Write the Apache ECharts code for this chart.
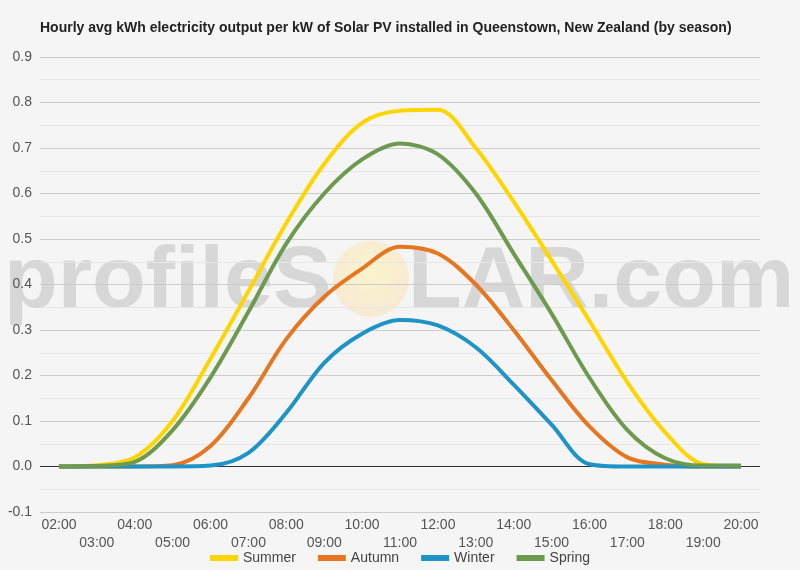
<!DOCTYPE html>
<html>
<head>
<meta charset="utf-8">
<title>Queenstown solar PV output</title>
<script src="https://cdn.jsdelivr.net/npm/echarts@6/dist/echarts.min.js"></script>
<style>
  html, body { margin: 0; padding: 0; background: #f5f5f5; }
  #chart { width: 800px; height: 570px; }
</style>
</head>
<body>
<div id="chart"></div>
<script>
// 时间
const hours = ['02:00', '03:00', '04:00', '05:00', '06:00', '07:00', '08:00', '09:00', '10:00',
  '11:00', '12:00', '13:00', '14:00', '15:00', '16:00', '17:00', '18:00', '19:00', '20:00'];

// 各季节数据 (kWh / kW)
const summer = [0, 0.003, 0.02, 0.1, 0.237, 0.385, 0.535, 0.665, 0.755, 0.782, 0.784, 0.70, 0.582, 0.453, 0.32, 0.185, 0.075, 0.005, 0];
const autumn = [0, 0, 0, 0.003, 0.045, 0.15, 0.28, 0.373, 0.435, 0.483, 0.468, 0.40, 0.30, 0.19, 0.088, 0.02, 0.004, 0, 0];
const winter = [0, 0, 0, 0, 0.002, 0.03, 0.118, 0.228, 0.292, 0.322, 0.31, 0.262, 0.18, 0.092, 0.005, 0, 0, 0, 0];
const spring = [0, 0.001, 0.01, 0.08, 0.196, 0.34, 0.49, 0.6, 0.675, 0.71, 0.686, 0.60, 0.468, 0.336, 0.195, 0.08, 0.018, 0.002, 0.002];

const seasonNames = ['Summer', 'Autumn', 'Winter', 'Spring'];
const seasonColors = ['#ffd500', '#e6761f', '#1e93c6', '#6d9a4f'];

// y轴刻度
const yMin = -0.1;
const yMax = 0.9;
const yStep = 0.1;

const chart = echarts.init(document.getElementById('chart'));

function makeSeries(name, data, color) {
  return {
    name: name,
    type: 'line',
    data: data,
    smooth: 0.33,
    symbol: 'none',
    lineStyle: { width: 4, color: color },
    itemStyle: { color: color },
    z: 3
  };
}

const series = [
  makeSeries(seasonNames[0], summer, seasonColors[0]),
  makeSeries(seasonNames[1], autumn, seasonColors[1]),
  makeSeries(seasonNames[2], winter, seasonColors[2]),
  makeSeries(seasonNames[3], spring, seasonColors[3])
];

// 零线
series[0].markLine = {
  silent: true,
  symbol: 'none',
  label: { show: false },
  lineStyle: { color: '#333', width: 1, type: 'solid' },
  data: [{ yAxis: 0 }],
  z: 2
};

const wmFont = 'bold 88px "Liberation Sans", Arial, sans-serif';
const wmColor = 'rgba(185,185,185,0.5)';

chart.setOption({
  backgroundColor: '#f5f5f5',
  animation: false,
  textStyle: { fontFamily: '"Liberation Sans", Arial, sans-serif' },
  title: {
    text: 'Hourly avg kWh electricity output per kW of Solar PV installed in Queenstown, New Zealand (by season)',
    left: 35,
    top: 16,
    textStyle: { fontSize: 14, fontWeight: 'bold', color: '#222' }
  },
  // 水印
  graphic: [
    {
      type: 'text',
      left: 4,
      top: 239,
      z: 0,
      style: { text: 'profileS', font: wmFont, fill: wmColor }
    },
    {
      type: 'circle',
      z: 0,
      shape: { cx: 371, cy: 279, r: 38 },
      style: {
        fill: new echarts.graphic.RadialGradient(0.5, 0.4, 0.6, [
          { offset: 0, color: 'rgba(255,245,170,0.55)' },
          { offset: 1, color: 'rgba(250,220,170,0.45)' }
        ])
      }
    },
    {
      type: 'text',
      left: 408,
      top: 239,
      z: 0,
      style: { text: 'LAR.com', font: wmFont, fill: wmColor }
    }
  ],
  legend: {
    bottom: 0,
    left: 'center',
    icon: 'rect',
    itemWidth: 28,
    itemHeight: 6,
    itemGap: 22,
    textStyle: { fontSize: 14, color: '#444' },
    data: seasonNames
  },
  grid: { left: 40, right: 40, top: 57, bottom: 58 },
  xAxis: {
    type: 'category',
    data: hours,
    boundaryGap: true,
    axisLine: { show: false },
    axisTick: { show: false },
    axisLabel: {
      interval: 0,
      fontSize: 14,
      color: '#555',
      lineHeight: 18,
      margin: 4,
      formatter: function (v, i) {
        return i % 2 === 0 ? v : '\n' + v;
      }
    }
  },
  yAxis: {
    type: 'value',
    min: yMin,
    max: yMax,
    interval: yStep,
    axisLine: { show: false },
    axisTick: { show: false },
    axisLabel: {
      fontSize: 14,
      color: '#555',
      margin: 8,
      formatter: function (v) { return v.toFixed(1); }
    },
    splitLine: { lineStyle: { color: '#cccccc' } },
    minorTick: { show: false, splitNumber: 2 },
    minorSplitLine: { show: true, lineStyle: { color: '#e6e6e6' } }
  },
  series: series
});
</script>
</body>
</html>
